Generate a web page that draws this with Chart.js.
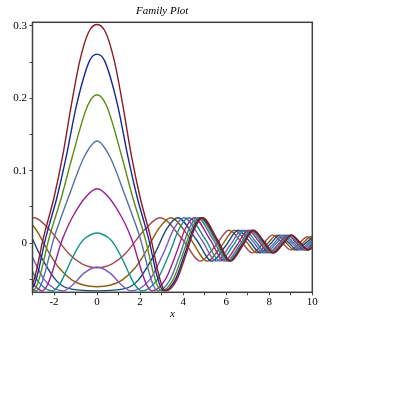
<!DOCTYPE html>
<html>
<head>
<meta charset="utf-8">
<script src="https://cdn.jsdelivr.net/npm/chart.js@4.4.0/dist/chart.umd.min.js"></script>
<style>
  html, body { margin: 0; padding: 0; background: #fff; }
  #wrap { width: 395px; height: 395px; }
</style>
</head>
<body>
<div id="wrap"><canvas id="family" width="395" height="395"></canvas></div>
<script>
// curves as [x, y] pairs, one list per member of the family
const curveRed = [[-3.194,-0.066],[-3.0,-0.0576],[-2.846,-0.0415],[-2.702,-0.022],[-2.55,0],[-2.4,0.018],[-2.236,0.036],[-2.0,0.063],[-1.6,0.12],[-1.2,0.19],[-0.8,0.252],[-0.4,0.291],[0,0.302],[0.4,0.291],[0.8,0.252],[1.2,0.19],[1.6,0.12],[2.0,0.063],[2.236,0.036],[2.4,0.018],[2.55,0],[2.702,-0.022],[2.846,-0.0415],[3.0,-0.0576],[3.194,-0.066],[3.695,-0.0512],[4.135,-0.0155],[4.533,0.0202],[4.899,0.035],[5.59,0.005],[6.205,-0.025],[6.764,-0.0037],[7.28,0.0177],[7.762,0.0021],[8.216,-0.0135],[8.646,-0.0013],[9.055,0.011],[9.447,0.0006],[9.823,-0.0095],[10.186,-0.0002]]
const curveBlue = [[-3.111,-0.066],[-2.912,-0.0576],[-2.753,-0.0415],[-2.604,-0.022],[-2.445,0],[-2.289,0.018],[-2.117,0.036],[-1.865,0.063],[-1.428,0.12],[-0.959,0.19],[-0.346,0.252],[0,0.261],[0.346,0.252],[0.959,0.19],[1.428,0.12],[1.865,0.063],[2.117,0.036],[2.289,0.018],[2.445,0],[2.604,-0.022],[2.753,-0.0415],[2.912,-0.0576],[3.111,-0.066],[3.624,-0.0512],[4.072,-0.0155],[4.476,0.0202],[4.846,0.035],[5.543,0.005],[6.163,-0.025],[6.725,-0.0037],[7.244,0.0177],[7.729,0.0021],[8.184,-0.0135],[8.616,-0.0013],[9.027,0.011],[9.42,0.0006],[9.797,-0.0095],[10.16,-0.0002]]
const curveGreen = [[-3.521,-0.0512],[-2.992,-0.066],[-2.784,-0.0576],[-2.617,-0.0415],[-2.46,-0.022],[-2.291,0],[-2.124,0.018],[-1.936,0.036],[-1.658,0.063],[-1.145,0.12],[-0.436,0.19],[0,0.205],[0.436,0.19],[1.145,0.12],[1.658,0.063],[1.936,0.036],[2.124,0.018],[2.291,0],[2.46,-0.022],[2.617,-0.0415],[2.784,-0.0576],[2.992,-0.066],[3.521,-0.0512],[3.981,-0.0155],[4.393,0.0202],[4.77,0.035],[5.477,0.005],[6.103,-0.025],[6.671,-0.0037],[7.194,0.0177],[7.681,0.0021],[8.139,-0.0135],[8.573,-0.0013],[8.986,0.011],[9.381,0.0006],[9.76,-0.0095],[10.124,-0.0002]]
const curveSlate = [[-3.381,-0.0512],[-2.825,-0.066],[-2.604,-0.0576],[-2.425,-0.0415],[-2.254,-0.022],[-2.069,0],[-1.881,0.018],[-1.667,0.036],[-1.334,0.063],[-0.583,0.12],[0,0.141],[0.583,0.12],[1.334,0.063],[1.667,0.036],[1.881,0.018],[2.069,0],[2.254,-0.022],[2.425,-0.0415],[2.604,-0.0576],[2.825,-0.066],[3.381,-0.0512],[3.857,-0.0155],[4.281,0.0202],[4.667,0.035],[5.388,0.005],[6.023,-0.025],[6.598,-0.0037],[7.126,0.0177],[7.618,0.0021],[8.08,-0.0135],[8.516,-0.0013],[8.932,0.011],[9.329,0.0006],[9.71,-0.0095],[10.076,-0.0002]]
const curveMagenta = [[-3.154,-0.0512],[-2.55,-0.066],[-2.302,-0.0576],[-2.098,-0.0415],[-1.897,-0.022],[-1.673,0],[-1.435,0.018],[-1.14,0.036],[-0.548,0.063],[0,0.075],[0.548,0.063],[1.14,0.036],[1.435,0.018],[1.673,0],[1.897,-0.022],[2.098,-0.0415],[2.302,-0.0576],[2.55,-0.066],[3.154,-0.0512],[3.661,-0.0155],[4.105,0.0202],[4.506,0.035],[5.249,0.005],[5.899,-0.025],[6.485,-0.0037],[7.021,0.0177],[7.52,0.0021],[7.987,-0.0135],[8.429,-0.0013],[8.849,0.011],[9.249,0.0006],[9.633,-0.0095],[10.002,-0.0002],[10.359,0.0088]]
const curveTeal = [[-3.344,-0.0155],[-2.78,-0.0512],[-2.069,-0.066],[-1.755,-0.0576],[-1.476,-0.0415],[-1.175,-0.022],[-0.762,0],[-0.529,0.0073],[0,0.014],[0.529,0.0073],[0.762,0],[1.175,-0.022],[1.476,-0.0415],[1.755,-0.0576],[2.069,-0.066],[2.78,-0.0512],[3.344,-0.0155],[3.825,0.0202],[4.252,0.035],[5.033,0.005],[5.708,-0.025],[6.311,-0.0037],[6.861,0.0177],[7.371,0.0021],[7.847,-0.0135],[8.296,-0.0013],[8.722,0.011],[9.129,0.0006],[9.517,-0.0095],[9.891,-0.0002],[10.251,0.0088]]
const curveViolet = [[-3.581,0.0202],[-3.061,-0.0155],[-2.433,-0.0512],[-1.572,-0.066],[-1.127,-0.0576],[-0.608,-0.0415],[0,-0.033],[0.608,-0.0415],[1.127,-0.0576],[1.572,-0.066],[2.433,-0.0512],[3.061,-0.0155],[3.581,0.0202],[4.034,0.035],[4.85,0.005],[5.547,-0.025],[6.166,-0.0037],[6.728,0.0177],[7.247,0.0021],[7.731,-0.0135],[8.187,-0.0013],[8.618,0.011],[9.029,0.0006],[9.422,-0.0095],[9.799,-0.0002],[10.162,0.0088]]
const curveNavy = [[-3.742,0.035],[-3.248,0.0202],[-2.665,-0.0155],[-1.91,-0.0512],[-1.378,-0.0623],[0,-0.066],[1.378,-0.0623],[1.91,-0.0512],[2.665,-0.0155],[3.248,0.0202],[3.742,0.035],[4.61,0.005],[5.339,-0.025],[5.979,-0.0037],[6.557,0.0177],[7.089,0.0021],[7.583,-0.0135],[8.047,-0.0013],[8.485,0.011],[8.902,0.0006],[9.301,-0.0095],[9.682,-0.0002],[10.05,0.0088]]
const curveBrown = [[-4.353,0.005],[-3.421,0.035],[-2.872,0.0202],[-2.191,-0.0155],[-1.761,-0.0345],[-1.162,-0.0512],[-0.6,-0.0583],[0,-0.0603],[0.6,-0.0583],[1.162,-0.0512],[1.761,-0.0345],[2.191,-0.0155],[2.872,0.0202],[3.421,0.035],[4.353,0.005],[5.119,-0.025],[5.784,-0.0037],[6.38,0.0177],[6.925,0.0021],[7.43,-0.0135],[7.903,-0.0013],[8.349,0.011],[8.772,0.0006],[9.176,-0.0095],[9.563,-0.0002],[9.935,0.0088],[10.293,0]]
const curveRose = [[-3.975,0.005],[-2.924,0.035],[-2.258,0.0202],[-1.285,-0.0155],[-0.7,-0.0287],[0,-0.034],[0.7,-0.0287],[1.285,-0.0155],[2.258,0.0202],[2.924,0.035],[3.975,0.005],[4.801,-0.025],[5.505,-0.0037],[6.128,0.0177],[6.693,0.0021],[7.215,-0.0135],[7.701,-0.0013],[8.158,0.011],[8.591,0.0006],[9.003,-0.0095],[9.397,-0.0002],[9.775,0.0088],[10.139,0]]

const curves = [curveRed, curveBlue, curveGreen, curveSlate, curveMagenta, curveTeal, curveViolet, curveNavy, curveBrown, curveRose]
const curveColors = ['#8c1a24', '#13279a', '#5a8c12', '#5470a8', '#9b1f8f', '#12928a', '#7b5cc0', '#134c78', '#8e6010', '#a5474f']

const xTickValues = [-3, -2, -1, 0, 1, 2, 3, 4, 5, 6, 7, 8, 9, 10]
const xTickLabelled = [-2, 0, 2, 4, 6, 8, 10]
const yTickValues = [-0.05, 0, 0.05, 0.1, 0.15, 0.2, 0.25, 0.3]
const yTickLabelled = [0, 0.1, 0.2, 0.3]

const serif = 'Liberation Serif'
const axisGrey = '#404040'

// box round the plot area (top and right sides are not drawn by the axes)
const framePlugin = {
  id: 'frame',
  afterDatasetsDraw(chart) {
    const { ctx, chartArea: a } = chart
    ctx.save()
    ctx.strokeStyle = axisGrey
    ctx.lineWidth = 1.5
    ctx.strokeRect(a.left, a.top, a.right - a.left, a.bottom - a.top)
    ctx.restore()
  },
}

const ctx = document.getElementById('family').getContext('2d')
new Chart(ctx, {
  type: 'line',
  data: {
    datasets: curves.map((pts, i) => ({
      data: pts.map(([x, y]) => ({ x, y })),
      borderColor: curveColors[i],
      borderWidth: 1.4,
      pointRadius: 0,
      fill: false,
      cubicInterpolationMode: 'monotone',
    })),
  },
  options: {
    responsive: false,
    animation: false,
    events: [],
    layout: { padding: { left: 12, right: 82.7, top: 0, bottom: 72.4 } },
    plugins: {
      legend: { display: false },
      tooltip: { enabled: false },
      title: {
        display: true,
        text: 'Family Plot',
        color: '#000',
        font: { family: serif, size: 11, style: 'italic', weight: 'normal' },
        padding: { top: 5, bottom: 4.1 },
      },
    },
    scales: {
      x: {
        type: 'linear',
        min: -3,
        max: 10,
        afterBuildTicks: axis => {
          axis.ticks = xTickValues.map(v => ({ value: v }))
        },
        afterFit: axis => {
          axis.height = 30.3
        },
        grid: { drawOnChartArea: false, tickLength: 3, color: axisGrey },
        border: { display: false },
        ticks: {
          autoSkip: false,
          maxRotation: 0,
          padding: 0,
          color: '#000',
          font: { family: serif, size: 11 },
          callback: value => (xTickLabelled.includes(value) ? String(value) : ''),
        },
        title: {
          display: true,
          text: 'x',
          color: '#000',
          font: { family: serif, size: 11, style: 'italic' },
          padding: { top: 0, bottom: 2 },
        },
      },
      y: {
        min: -0.068,
        max: 0.305,
        afterBuildTicks: axis => {
          axis.ticks = yTickValues.map(v => ({ value: v }))
        },
        afterFit: axis => {
          axis.width = 20.5
        },
        grid: { drawOnChartArea: false, tickLength: 3, color: axisGrey },
        border: { display: false },
        ticks: {
          padding: 2.5,
          color: '#000',
          font: { family: serif, size: 11 },
          callback: value => {
            const hit = yTickLabelled.find(v => Math.abs(v - value) < 1e-9)
            return hit === undefined ? '' : String(hit)
          },
        },
      },
    },
  },
  plugins: [framePlugin],
})
</script>
</body>
</html>
